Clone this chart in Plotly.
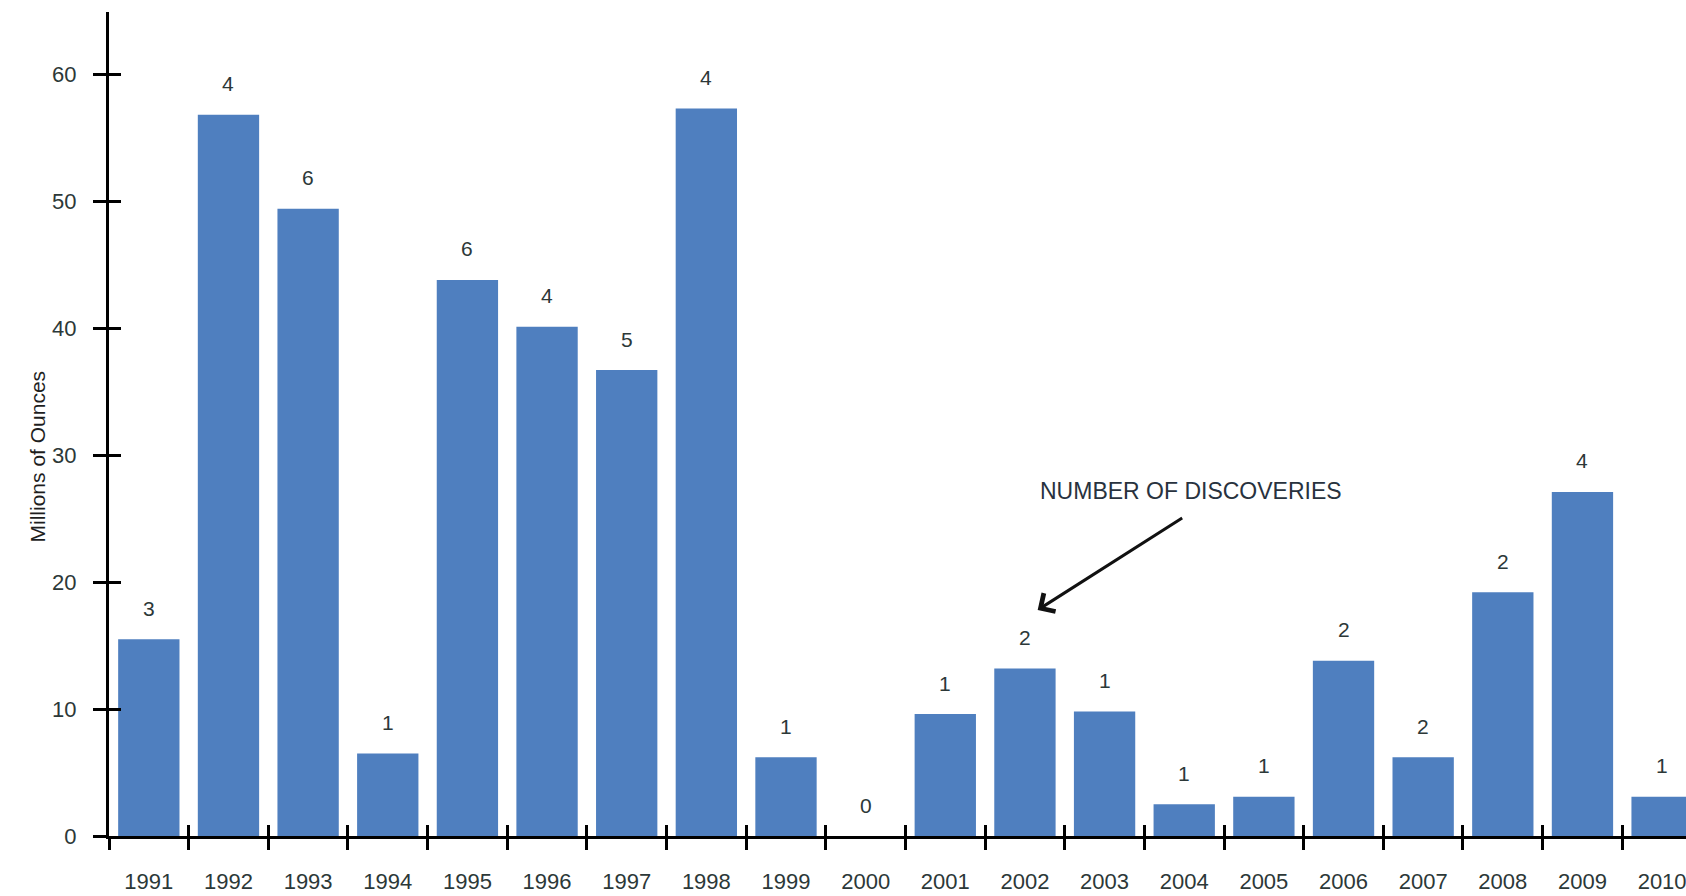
import plotly.graph_objects as go

# Gold discovered per year (millions of ounces) and number of discoveries
years = ["1991", "1992", "1993", "1994", "1995", "1996", "1997", "1998", "1999", "2000",
         "2001", "2002", "2003", "2004", "2005", "2006", "2007", "2008", "2009", "2010"]
ounces = [15.5, 56.8, 49.4, 6.5, 43.8, 40.1, 36.7, 57.3, 6.2, 0,
          9.6, 13.2, 9.8, 2.5, 3.1, 13.8, 6.2, 19.2, 27.1, 3.1]
discoveries = [3, 4, 6, 1, 6, 4, 5, 4, 1, 0, 1, 2, 1, 1, 1, 2, 2, 2, 4, 1]
y_ticks = [0, 10, 20, 30, 40, 50, 60]

BAR = "#4f7fbf"
INK = "#2c3838"
FONT = "Liberation Sans, Arial, sans-serif"
X_RANGE = [-0.5, 19.3]
Y_RANGE = [0, 64.9]

fig = go.Figure()
fig.add_trace(go.Bar(x=years, y=ounces, marker_color=BAR, marker_line_width=0,
                     hoverinfo="x+y", showlegend=False))
# transparent copy of the series on the overlaid axes so their inner ticks get drawn
fig.add_trace(go.Scatter(x=list(range(len(years))), y=ounces, xaxis="x2", yaxis="y2",
                         mode="markers", marker=dict(opacity=0),
                         showlegend=False, hoverinfo="skip"))

# discovery counts above each bar (category positions are indices)
annotations = [
    dict(x=i, y=v, xref="x", yref="y", text=str(n), showarrow=False,
         yanchor="middle", yshift=31,
         font=dict(family=FONT, size=21, color=INK))
    for i, (v, n) in enumerate(zip(ounces, discoveries))
]

# callout for the counts
annotations.append(dict(x=13.09, y=27.2, xref="x", yref="y", text="NUMBER OF DISCOVERIES",
                        showarrow=False,
                        font=dict(family=FONT, size=23, color="#28323e")))
annotations.append(dict(x=11.16, y=17.8, xref="x", yref="y", text="", showarrow=True,
                        ax=146, ay=-93, arrowhead=4, arrowsize=1.4, arrowwidth=3,
                        arrowcolor="#111111"))

# y-axis caption
annotations.append(dict(x=0, y=0.46, xref="paper", yref="paper", xshift=-85,
                        text="Millions of Ounces", textangle=-90, showarrow=False,
                        font=dict(family=FONT, size=21, color="#1e1e1e")))

fig.update_layout(
    width=1686, height=896,
    margin=dict(l=109, r=0, t=12, b=60),
    paper_bgcolor="white", plot_bgcolor="white",
    bargap=0.23,
    annotations=annotations,
    xaxis=dict(type="category", range=X_RANGE, showgrid=False, zeroline=False,
               automargin=False,
               showline=True, linecolor="#000000", linewidth=3,
               ticks="outside", tickson="boundaries", ticklen=11, tickwidth=3,
               tickcolor="#000000", ticklabelstandoff=24,
               tickfont=dict(family=FONT, size=22, color=INK)),
    xaxis2=dict(visible=True, overlaying="x", anchor="y2", range=X_RANGE, tick0=-0.5, dtick=1,
                automargin=False,
                showgrid=False, zeroline=False, showticklabels=False, showline=False,
                ticks="inside", ticklen=11, tickwidth=3, tickcolor="#000000"),
    yaxis=dict(range=Y_RANGE, tickvals=y_ticks, showgrid=False, zeroline=False,
               automargin=False,
               showline=True, linecolor="#000000", linewidth=3,
               ticks="outside", ticklen=13, tickwidth=3, tickcolor="#000000",
               ticklabelstandoff=12,
               tickfont=dict(family=FONT, size=22, color=INK)),
    yaxis2=dict(visible=True, overlaying="y", anchor="x2", side="left", range=Y_RANGE,
                automargin=False,
                tickvals=y_ticks, showgrid=False, zeroline=False, showticklabels=False,
                showline=False, ticks="inside", ticklen=12, tickwidth=3, tickcolor="#000000"),
)

fig.write_html("out.html")
